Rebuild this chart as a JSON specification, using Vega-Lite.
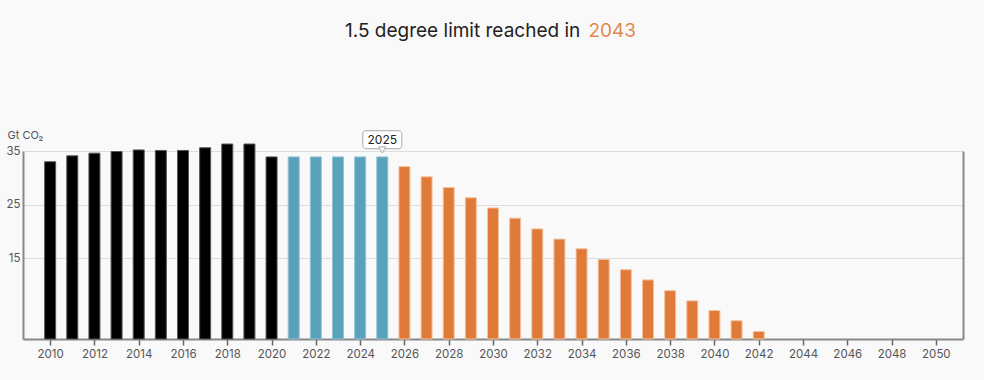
{
  "$schema": "https://vega.github.io/schema/vega-lite/v6.json",
  "width": 940,
  "height": 188,
  "autosize": {"type": "none"},
  "padding": {"left": 23, "top": 151, "right": 21, "bottom": 41},
  "background": "#f9f9f9",
  "title": {
    "text": "1.5 degree limit reached in",
    "anchor": "middle",
    "align": "left",
    "dx": -148,
    "offset": -20,
    "font": "Inter",
    "fontSize": 19,
    "fontWeight": "normal",
    "color": "#222222"
  },
  "config": {
    "view": {"stroke": null},
    "font": "Inter"
  },
  "resolve": {"axis": {"y": "independent"}},
  "datasets": {
    "emissions": [
      {"year": 2010, "emissions": 33.0, "phase": "historical"},
      {"year": 2011, "emissions": 34.1, "phase": "historical"},
      {"year": 2012, "emissions": 34.6, "phase": "historical"},
      {"year": 2013, "emissions": 34.9, "phase": "historical"},
      {"year": 2014, "emissions": 35.2, "phase": "historical"},
      {"year": 2015, "emissions": 35.1, "phase": "historical"},
      {"year": 2016, "emissions": 35.1, "phase": "historical"},
      {"year": 2017, "emissions": 35.6, "phase": "historical"},
      {"year": 2018, "emissions": 36.3, "phase": "historical"},
      {"year": 2019, "emissions": 36.3, "phase": "historical"},
      {"year": 2020, "emissions": 33.9, "phase": "historical"},
      {"year": 2021, "emissions": 33.9, "phase": "current"},
      {"year": 2022, "emissions": 33.9, "phase": "current"},
      {"year": 2023, "emissions": 33.9, "phase": "current"},
      {"year": 2024, "emissions": 33.9, "phase": "current"},
      {"year": 2025, "emissions": 33.9, "phase": "current"},
      {"year": 2026, "emissions": 32.1, "phase": "projected"},
      {"year": 2027, "emissions": 30.2, "phase": "projected"},
      {"year": 2028, "emissions": 28.2, "phase": "projected"},
      {"year": 2029, "emissions": 26.3, "phase": "projected"},
      {"year": 2030, "emissions": 24.4, "phase": "projected"},
      {"year": 2031, "emissions": 22.5, "phase": "projected"},
      {"year": 2032, "emissions": 20.5, "phase": "projected"},
      {"year": 2033, "emissions": 18.6, "phase": "projected"},
      {"year": 2034, "emissions": 16.8, "phase": "projected"},
      {"year": 2035, "emissions": 14.8, "phase": "projected"},
      {"year": 2036, "emissions": 12.9, "phase": "projected"},
      {"year": 2037, "emissions": 11.0, "phase": "projected"},
      {"year": 2038, "emissions": 9.0, "phase": "projected"},
      {"year": 2039, "emissions": 7.1, "phase": "projected"},
      {"year": 2040, "emissions": 5.3, "phase": "projected"},
      {"year": 2041, "emissions": 3.4, "phase": "projected"},
      {"year": 2042, "emissions": 1.4, "phase": "projected"}
    ],
    "marker": [
      {"year": 2025, "label": "2025"}
    ]
  },
  "layer": [
    {
      "data": {"name": "emissions"},
      "mark": {"type": "bar", "size": 11, "strokeWidth": 1, "clip": false},
      "encoding": {
        "x": {
          "field": "year",
          "type": "quantitative",
          "scale": {"domain": [2009, 2051], "nice": false, "zero": false},
          "axis": {
            "values": [2010, 2012, 2014, 2016, 2018, 2020, 2022, 2024, 2026, 2028, 2030, 2032, 2034, 2036, 2038, 2040, 2042, 2044, 2046, 2048, 2050],
            "format": "d",
            "title": null,
            "grid": false,
            "labelFontSize": 11.5,
            "labelColor": "#555555",
            "labelPadding": 3,
            "tickColor": "#666666",
            "tickSize": 6,
            "tickWidth": 1.5,
            "domainColor": "#888888",
            "domainWidth": 2
          }
        },
        "y": {
          "field": "emissions",
          "type": "quantitative",
          "scale": {"domain": [0, 35], "nice": false},
          "axis": {
            "values": [15, 25, 35],
            "title": "Gt CO\u2082",
            "titleAngle": 0,
            "titleX": -16,
            "titleY": -13,
            "titleAlign": "left",
            "titleBaseline": "alphabetic",
            "titleFontSize": 11,
            "titleFontWeight": "normal",
            "titleColor": "#555555",
            "grid": true,
            "gridColor": "#dddddd",
            "ticks": false,
            "domainColor": "#888888",
            "domainWidth": 2,
            "labelPadding": 3,
            "labelFontSize": 11.5,
            "labelColor": "#555555"
          }
        },
        "color": {
          "field": "phase",
          "type": "nominal",
          "scale": {"domain": ["historical", "current", "projected"], "range": ["#000000", "#5aa2bb", "#e07a38"]},
          "legend": null
        },
        "stroke": {
          "field": "phase",
          "type": "nominal",
          "scale": {"domain": ["historical", "current", "projected"], "range": ["#555555", "#8fc2d4", "#f3c3a1"]},
          "legend": null
        }
      }
    },
    {
      "data": {"name": "marker"},
      "mark": {"type": "rect", "width": 39, "height": 18, "cornerRadius": 3, "fill": "#ffffff", "stroke": "#aaaaaa", "strokeWidth": 1, "clip": false},
      "encoding": {
        "x": {"field": "year", "type": "quantitative"},
        "y": {"datum": 37.1, "type": "quantitative", "axis": null}
      }
    },
    {
      "data": {"name": "marker"},
      "mark": {"type": "point", "shape": "triangle-down", "filled": true, "fill": "#ffffff", "stroke": "#aaaaaa", "strokeWidth": 1, "size": 50, "opacity": 1},
      "encoding": {
        "x": {"field": "year", "type": "quantitative"},
        "y": {
          "datum": 35.2,
          "type": "quantitative",
          "axis": {
            "orient": "right",
            "labels": false,
            "ticks": false,
            "grid": false,
            "domainColor": "#888888",
            "domainWidth": 2,
            "title": "2043",
            "titleAngle": 0,
            "titleX": -375,
            "titleY": -115,
            "titleAlign": "left",
            "titleBaseline": "alphabetic",
            "titleFont": "Inter",
            "titleFontSize": 19,
            "titleFontWeight": "normal",
            "titleColor": "#e0894f"
          }
        }
      }
    },
    {
      "data": {"name": "marker"},
      "mark": {"type": "text", "fontSize": 12, "color": "#222222", "baseline": "middle", "align": "center"},
      "encoding": {
        "x": {"field": "year", "type": "quantitative"},
        "y": {"datum": 37.1, "type": "quantitative", "axis": null},
        "text": {"field": "label"}
      }
    }
  ]
}
